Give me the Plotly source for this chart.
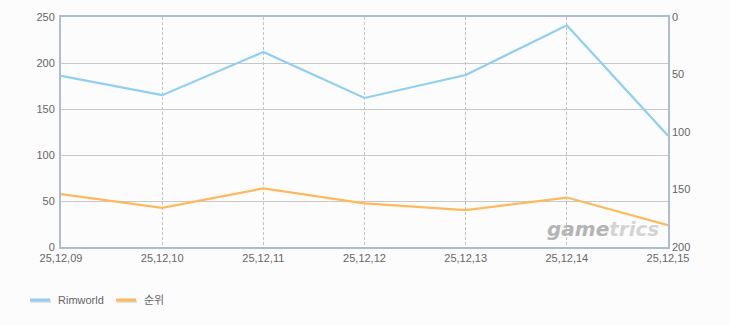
import plotly.graph_objects as go

dates = ["25,12,09", "25,12,10", "25,12,11", "25,12,12", "25,12,13", "25,12,14", "25,12,15"]
rimworld = [186, 165, 212, 162, 187, 241, 121]
rank = [154, 166, 149, 162, 168, 157, 181]
left_ticks = [0, 50, 100, 150, 200, 250]
right_ticks = [0, 50, 100, 150, 200]

BLUE = "#8ecff2"
ORANGE = "#fdba5c"
FONT = "Liberation Sans, Noto Sans CJK KR, sans-serif"
W, H = 730, 325
ML, MR, MT, MB = 61, 62, 17, 78
PW, PH = W - ML - MR, H - MT - MB

fig = go.Figure()
fig.add_trace(go.Scatter(x=dates, y=rimworld, mode="lines", name="Rimworld",
                         line=dict(color=BLUE, width=2.2), yaxis="y"))
fig.add_trace(go.Scatter(x=dates, y=rank, mode="lines", name="순위",
                         line=dict(color=ORANGE, width=2.2), yaxis="y2"))

fig.update_layout(
    width=W, height=H,
    margin=dict(l=ML, r=MR, t=MT, b=MB),
    paper_bgcolor="#fcfcfc", plot_bgcolor="#fcfcfc",
    showlegend=False,
    font=dict(family=FONT, size=11, color="#666666"),
    xaxis=dict(type="category", range=[0, len(dates) - 1],
               showgrid=True, gridcolor="#c4c4c4", griddash="3px,2px", gridwidth=1,
               showline=True, linecolor="#aabdd5", linewidth=2, mirror=True,
               ticks="", tickfont=dict(size=11, color="#666666"), zeroline=False),
    yaxis=dict(range=[0, 250], tickvals=left_ticks,
               showgrid=True, gridcolor="#c8c8c8", gridwidth=1,
               showline=True, linecolor="#aabdd5", linewidth=2, mirror=True,
               ticks="", ticklabelstandoff=2, zeroline=False,
               tickfont=dict(size=11, color="#666666")),
    yaxis2=dict(range=[200, 0], tickvals=right_ticks, overlaying="y", side="right",
                showgrid=False, showline=False, ticks="", zeroline=False,
                ticklabelstandoff=3, tickfont=dict(size=11, color="#666666")),
)

# watermark
fig.add_annotation(xref="paper", yref="paper", x=(603 - ML) / PW, y=(H - MB - 229) / PH,
                   text="<b><i><span style='color:#b4b4b4'>game</span><span style='color:#d4d4d4'>trics</span></i></b>",
                   showarrow=False, font=dict(family="DejaVu Sans", size=20),
                   xanchor="center", yanchor="middle")

# legend (manual)
legend_y = (H - MB - 300) / PH
items = [("Rimworld", BLUE, 30), ("순위", ORANGE, 116)]
for name, col, px in items:
    x0 = (px - ML) / PW
    x1 = (px + 20 - ML) / PW
    fig.add_shape(type="line", xref="paper", yref="paper", x0=(px + 1 - ML) / PW, x1=(px + 21 - ML) / PW,
                  y0=legend_y - 1.5 / PH, y1=legend_y - 1.5 / PH, line=dict(color="#e0e0e0", width=3))
    fig.add_shape(type="line", xref="paper", yref="paper", x0=x0, x1=x1,
                  y0=legend_y, y1=legend_y, line=dict(color=col, width=3))
    fig.add_annotation(xref="paper", yref="paper", x=(px + 26 - ML) / PW, y=legend_y,
                       text=name, showarrow=False, xanchor="left", yanchor="middle",
                       font=dict(family=FONT, size=11, color="#666666"))

fig.write_html("out.html")
